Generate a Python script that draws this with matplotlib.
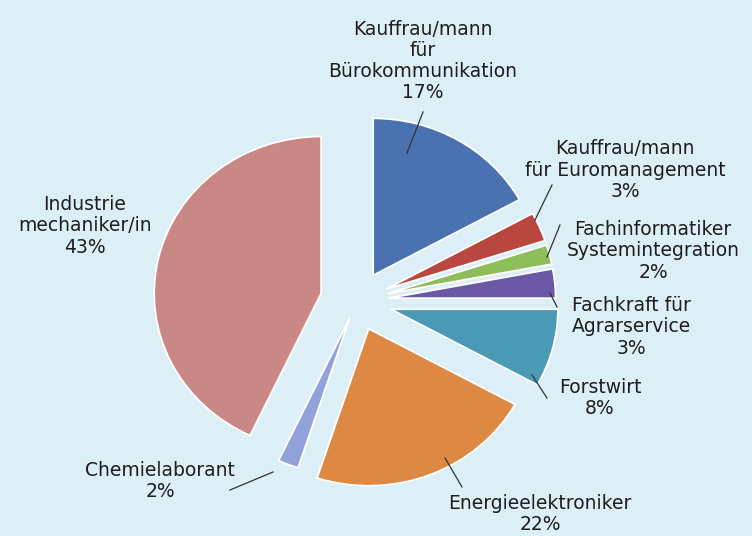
import matplotlib; matplotlib.use('agg'); import matplotlib.pyplot as plt

# Ausbildungsberufe, Anteil in Prozent
berufe = ["Kauffrau/mann\nfür\nBürokommunikation",
          "Kauffrau/mann\nfür Euromanagement",
          "Fachinformatiker\nSystemintegration",
          "Fachkraft für\nAgrarservice",
          "Forstwirt",
          "Energieelektroniker",
          "Chemielaborant",
          "Industrie\nmechaniker/in"]
anteile = [17, 3, 2, 3, 8, 22, 2, 43]

farben = ["#4A72B0", "#B9463F", "#8DBE5A", "#6A58A4",
          "#4A9AB5", "#DD8843", "#91A2DA", "#C98886"]
explode = [0.19, 0.19, 0.19, 0.19, 0.21, 0.19, 0.12, 0.22]

# label centre and leader line (start, end) in pixels, y from top
label_pos = [(423, 61), (625, 170), (653, 251), (631, 327),
             (600, 398), (540, 514), (160, 481), (85, 226)]
leader = [((423, 112), (407, 153)), ((552, 185), (535, 220)),
          ((560, 225), (547, 257)), ((557, 307), (550, 293)),
          ((547, 398), (532, 375)), ((462, 487), (445, 458)),
          ((230, 490), (273, 472)), None]

W, H = 752, 536
BG = "#DCEEF6"


def px(p):
    return (p[0] / W, 1 - p[1] / H)


fig = plt.figure(figsize=(W / 100, H / 100), dpi=100, facecolor=BG)
ax = fig.add_axes([0, 0, 1, 1])
ax.set_facecolor(BG)

ax.pie(anteile, explode=explode, colors=farben, startangle=90, counterclock=False,
       radius=1, wedgeprops=dict(edgecolor="white", linewidth=1.3))

# pie is slightly wider than tall
cx, cy, rx, ry = 357, 301, 167, 157
ax.set_aspect("auto")
ax.set_xlim(-cx / rx, (W - cx) / rx)
ax.set_ylim(-(H - cy) / ry, cy / ry)
ax.axis("off")

for name, val, pos, ln in zip(berufe, anteile, label_pos, leader):
    fig.text(*px(pos), f"{name}\n{val}%", ha="center", va="center",
             fontsize=13.5, family="DejaVu Sans", color="#1E1E1E",
             linespacing=1.15)
    if ln is not None:
        (x0, y0), (x1, y1) = px(ln[0]), px(ln[1])
        fig.add_artist(plt.Line2D([x0, x1], [y0, y1], color="#333333", lw=0.9,
                                  transform=fig.transFigure))

fig.savefig("out.png", dpi=100, facecolor=BG)
plt.close()
